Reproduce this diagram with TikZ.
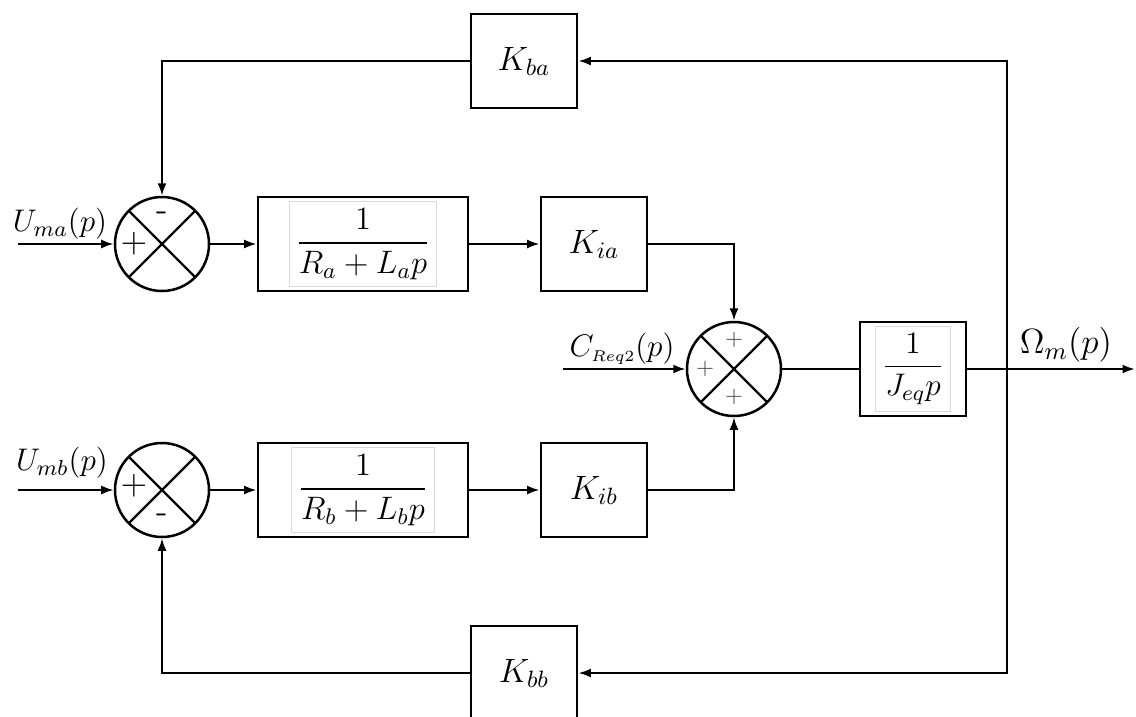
\documentclass[tikz,border=0pt]{standalone}
\usepackage{amsmath}
\usepackage{fix-cm}
\usepackage{xcolor}
\usepackage{tikz}
\usetikzlibrary{arrows.meta}
\setlength{\fboxsep}{2.5pt}
\setlength{\fboxrule}{0.4pt}
\newcommand{\eqbox}[1]{\fcolorbox{black!15}{white}{$\displaystyle #1$}}

\begin{document}
\begin{tikzpicture}[
    x=0.4pt, y=-0.4pt,
    block/.style={draw, line width=1.1pt, inner sep=0pt, minimum width=42.4pt, minimum height=37.6pt, font=\fontsize{13.5}{16}\selectfont},
    wide/.style={block, minimum width=84pt, font=\fontsize{13}{15}\selectfont},
    sum/.style={circle, draw, line width=1pt, inner sep=0pt, minimum size=37.6pt,
        path picture={\draw[line width=0.9pt] (path picture bounding box.north west) -- (path picture bounding box.south east)
            (path picture bounding box.south west) -- (path picture bounding box.north east);}},
    sign/.style={inner sep=0pt, font=\fontsize{14}{16}\selectfont},
    small sign/.style={inner sep=0pt, font=\fontsize{9}{11}\selectfont, text=black!70},
    lbl/.style={inner sep=0pt, font=\fontsize{12.5}{15}\selectfont},
    link/.style={line width=0.9pt},
    arrow/.style={link, -{Latex[length=5pt, width=3.6pt]}}
]
\useasboundingbox (0,0) rectangle (1136,716);

% summing points
\node[sum] (sumA) at (162,244) {};
\node[sum] (sumB) at (162,490) {};
\node[sum] (sumC) at (734,369) {};

% blocks
\node[wide] (blkA) at (363,244) {\eqbox{\frac{1}{R_a+L_ap}}};
\node[wide] (blkB) at (363,490) {\eqbox{\frac{1}{R_b+L_bp}}};
\node[block] (kia) at (594,244) {$K_{ia}$};
\node[block] (kib) at (594,490) {$K_{ib}$};
\node[block] (kba) at (524,61) {$K_{ba}$};
\node[block] (kbb) at (524,673) {$K_{bb}$};
\node[block, font=\fontsize{12.5}{15}\selectfont] (jeq) at (913,369) {\eqbox{\frac{1}{J_{eq}p}}};

% signs
\node[sign] (sA-minus) at (162,216) {-};
\node[sign] (sA-plus) at (134,244) {$+$};
\node[sign] (sB-plus) at (134,486) {$+$};
\node[sign] (sB-minus) at (162,518) {-};
\node[small sign] (sC-top) at (734,340) {$+$};
\node[small sign] (sC-left) at (705,369) {$+$};
\node[small sign] (sC-bot) at (734,397) {$+$};

% signal labels
\node[lbl] (uma) at (60,224) {$U_{ma}(p)$};
\node[lbl] (umb) at (62,463) {$U_{mb}(p)$};
\node[lbl] (creq) at (622,349) {$C_{\scriptscriptstyle Req2}(p)$};
\node[lbl, font=\fontsize{14}{16}\selectfont] (omega) at (1066,345) {$\Omega_m(p)$};

\coordinate (umaIn) at (18,244);
\coordinate (umbIn) at (18,490);
\coordinate (creqIn) at (563,369);
\coordinate (junc) at (1007,369);
\coordinate (outEnd) at (1135,369);

\draw[arrow] (umaIn) -- (sumA);
\draw[arrow] (umbIn) -- (sumB);
\draw[arrow] (sumA) -- (blkA);
\draw[arrow] (sumB) -- (blkB);
\draw[arrow] (blkA) -- (kia);
\draw[arrow] (blkB) -- (kib);
\draw[arrow] (kia.east) -| (sumC.north);
\draw[arrow] (kib.east) -| (sumC.south);
\draw[arrow] (creqIn) -- (sumC);
\draw[link] (sumC) -- (jeq);
\draw[arrow] (jeq) -- (outEnd);
\draw[arrow] (junc) |- (kba.east);
\draw[arrow] (junc) |- (kbb.east);
\draw[arrow] (kba.west) -| (sumA.north);
\draw[arrow] (kbb.west) -| (sumB.south);
\end{tikzpicture}
\end{document}
